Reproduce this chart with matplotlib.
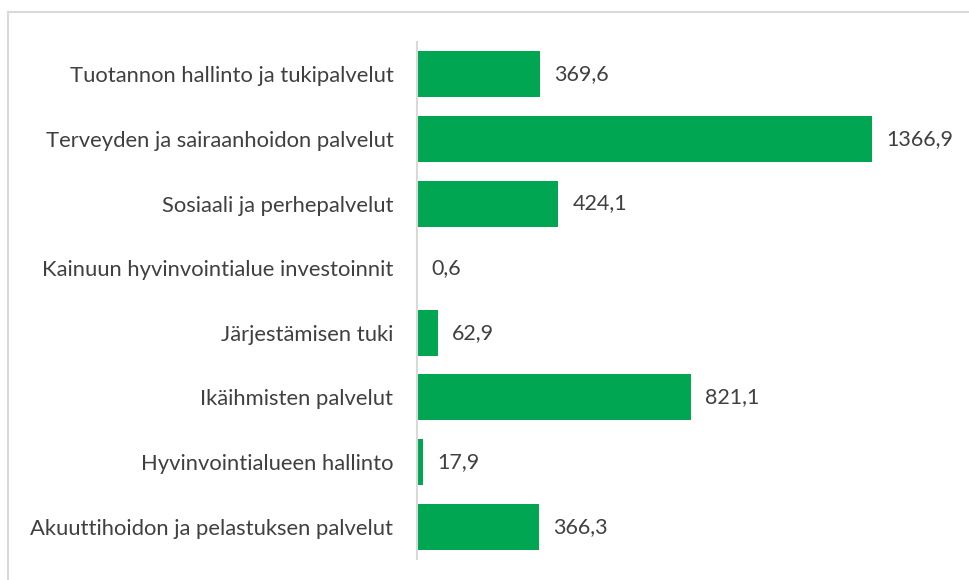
import matplotlib.pyplot as plt
from matplotlib.lines import Line2D

categories = ['Tuotannon hallinto ja tukipalvelut', 'Terveyden ja sairaanhoidon palvelut',
              'Sosiaali ja perhepalvelut', 'Kainuun hyvinvointialue investoinnit',
              'Järjestämisen tuki', 'Ikäihmisten palvelut', 'Hyvinvointialueen hallinto',
              'Akuuttihoidon ja pelastuksen palvelut']
values = [369.6, 1366.9, 424.1, 0.6, 62.9, 821.1, 17.9, 366.3]

W, H = 970, 580
fig = plt.figure(figsize=(W / 100, H / 100), dpi=100)
plt.rcParams['font.family'] = ['Lato', 'DejaVu Sans']

# axes placed in pixel units
x0, x1 = 417, 950
y_top, y_bot = 42, 559
ax = fig.add_axes([x0 / W, 1 - y_bot / H, (x1 - x0) / W, (y_bot - y_top) / H])

green = '#00A651'
txt = '#404040'
pos = list(range(len(categories)))
ax.barh(pos, values, height=0.71, color=green)
ax.set_ylim(len(categories) - 0.5, -0.5)
ax.set_xlim(0, 1600)

for p, v in zip(pos, values):
    ax.text(v + 42, p, f'{v:.1f}'.replace('.', ','), va='center', ha='left',
            fontsize=15.5, color=txt)

ax.set_yticks(pos)
ax.set_yticklabels(categories, fontsize=15.8, color=txt)
ax.tick_params(axis='y', length=0, pad=17)
ax.set_xticks([])
for s in ['top', 'right', 'bottom']:
    ax.spines[s].set_visible(False)
ax.spines['left'].set_color('#D9D9D9')
ax.spines['left'].set_linewidth(1.5)

# outer chart border (top and left visible)
fig.add_artist(Line2D([8 / W, 1], [1 - 12 / H, 1 - 12 / H], color='#D9D9D9', lw=1.5))
fig.add_artist(Line2D([8 / W, 8 / W], [0, 1 - 12 / H], color='#D9D9D9', lw=1.5))

fig.savefig('out.png', dpi=100)
